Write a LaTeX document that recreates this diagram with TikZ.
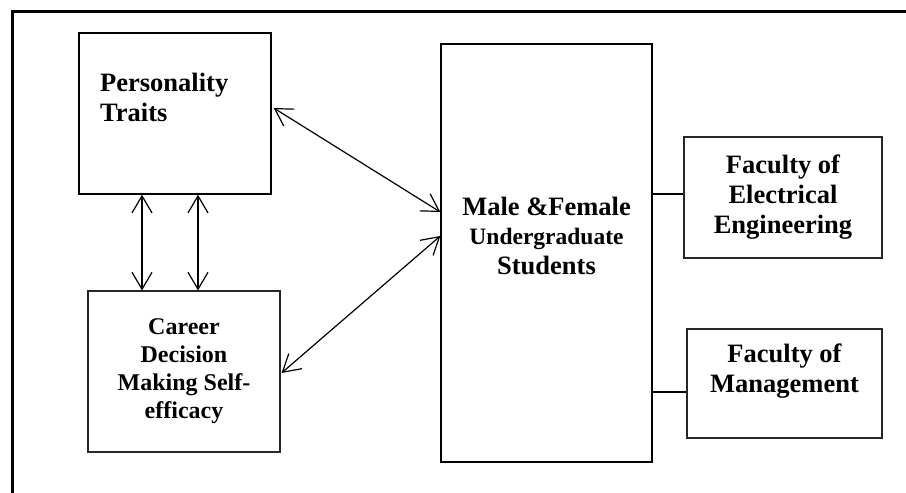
\documentclass[tikz,border=0pt]{standalone}
\usepackage{fontspec}
\setmainfont{Liberation Serif}
\usetikzlibrary{arrows.meta}

\begin{document}
\begin{tikzpicture}[x=1pt,y=-1pt,
    box/.style={draw,line width=1.4pt,inner sep=0pt},
    thinbox/.style={draw,black!85,line width=1.1pt,inner sep=0pt,text=black},
    lbl/.style={font=\fontsize{26.5}{30}\selectfont\bfseries,align=center,inner sep=0pt},
    both/.style={{Straight Barb[length=17pt,width=20pt]}-{Straight Barb[length=17pt,width=20pt]},line width=1.2pt}]
  \useasboundingbox (0,0) rectangle (906,493);
  % outer frame (cut at the page edge)
  \draw[line width=3pt] (12,493) -- (12,11) -- (906,11);
  % personality traits
  \node[box,minimum width=192pt,minimum height=161pt] (pt) at (175,113.5) {};
  \node[lbl,anchor=north west,align=left] (ptlabel) at (100,73) {Personality\\Traits};
  % career decision making self-efficacy
  \node[thinbox,minimum width=192pt,minimum height=161pt,
        font=\fontsize{24}{28}\selectfont\bfseries,align=center] (cd) at (184,371.5)
        {Career\\Decision\\Making Self-\\efficacy};
  % students
  \node[box,minimum width=211pt,minimum height=418pt] (mf) at (546.5,253) {};
  \node[lbl] (mflabel) at (546.5,236)
        {Male \&Female\\[-1pt]{\fontsize{23.5}{27}\selectfont Undergraduate}\\Students};
  % faculties
  \node[thinbox,minimum width=198pt,minimum height=121pt,lbl] (fee) at (783,197.5)
        {Faculty of\\Electrical\\Engineering};
  \node[thinbox,minimum width=195pt,minimum height=109pt] (fm) at (784.5,383.5) {};
  \node[lbl] (fmlabel) at (784.5,371) {Faculty of\\Management};
  % links
  \draw[both] ([xshift=2pt]pt.east |- 0,108) -- (mf.west |- 0,212);
  \draw[both] ([xshift=1pt]cd.east |- 0,373) -- (mf.west |- 0,236);
  \draw[both] (pt.south -| 142,0) -- (cd.north -| 142,0);
  \draw[both] (pt.south -| 198,0) -- (cd.north -| 198,0);
  \draw[line width=1.2pt] (mf.east |- 0,194) -- (fee.west |- 0,194);
  \draw[line width=1.2pt] (mf.east |- 0,392) -- (fm.west |- 0,392);
\end{tikzpicture}
\end{document}
